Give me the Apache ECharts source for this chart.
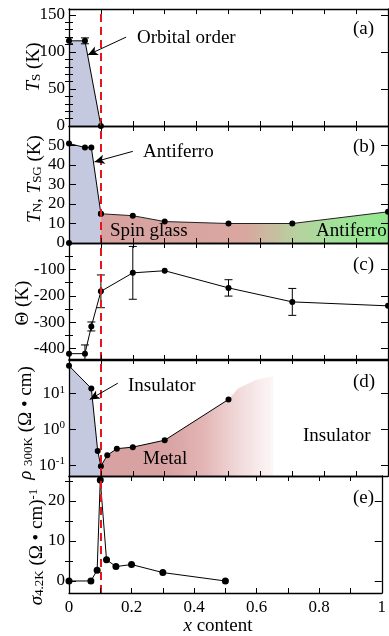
<!DOCTYPE html>
<html>
<head>
<meta charset="utf-8">
<script src="https://cdn.jsdelivr.net/npm/echarts@6/dist/echarts.min.js"></script>
<style>
  html, body { margin: 0; padding: 0; background: #fff; }
  #chart { width: 389px; height: 636px; }
</style>
</head>
<body>
<div id="chart"></div>
<script>
// (a) orbital order temperature
const tsX = [0, 0.05, 0.1];
const tsY = [115, 115, 0];
const tsErr = [4, 4, 0];

// (b) Neel / spin glass temperatures
const tnX = [0, 0.05, 0.07, 0.1];
const tnY = [51, 49, 49, 15];
const tsgX = [0.1, 0.2, 0.3, 0.5, 0.7, 1.0];
const tsgY = [15, 14, 11, 10, 10, 16];

// (c) Weiss temperature
const thetaX = [0, 0.05, 0.07, 0.1, 0.2, 0.3, 0.5, 0.7, 1.0];
const thetaY = [-419, -419, -316, -183, -113, -105, -170, -223, -238];
const thetaErr = [0, 33, 17, 62, 100, 0, 31, 51, 0];

// (d) resistivity at 300K
const rhoX = [0, 0.07, 0.09, 0.1, 0.12, 0.15, 0.2, 0.3, 0.5];
const rhoY = [60, 14, 0.25, 0.094, 0.19, 0.29, 0.32, 0.5, 6.9];
// upper edge of the faded metal region past the last point
const fadeX = [0.53, 0.585, 0.64];
const fadeY = [14, 24, 31];

// (e) conductivity at 4.2K
const sigX = [0, 0.07, 0.09, 0.1, 0.12, 0.15, 0.2, 0.3, 0.5];
const sigY = [0, 0, 2.7, 25.2, 5.3, 3.6, 4.1, 2.1, 0];

// ticks
const xLabels = [0, 0.2, 0.4, 0.6, 0.8, 1];
const tsTicks = [0, 50, 100, 150];
const tsMinor = [10, 20, 30, 40, 60, 70, 80, 90, 110, 120, 130, 140];
const tnTicks = [0, 10, 20, 30, 40, 50];
const thetaTicks = [-400, -300, -200, -100, 0];
const thetaLabels = [-400, -300, -200, -100];
const thetaMinor = [-350, -250, -150, -50];
const rhoTicks = [0.1, 1, 10];
const sigTicks = [0, 10, 20];
const sigMinor = [5, 15, 25];

const FONT = 'Liberation Serif';
const BLUE = '#c5c9df';
const RED = '#d7a2a1';
const DASH_RED = '#e8141b';

const pts = (xs, ys) => xs.map((x, i) => [x, ys[i]]);
const errs = (xs, ys, es) => xs.map((x, i) => [x, ys[i] - es[i], ys[i] + es[i]]).filter((d, i) => es[i] > 0);

const panels = [
  { min: 0, max: 158, ticks: tsTicks, minor: tsMinor },
  { min: 0, max: 60, ticks: tnTicks, minor: [] },
  { min: -443, max: 0, ticks: thetaTicks, labels: thetaLabels, minor: thetaMinor },
  { min: 0.05, max: 93, type: 'log', ticks: rhoTicks, minor: [] },
  { min: -3, max: 26.2, ticks: sigTicks, minor: sigMinor },
];
const tops = [9, 126, 243, 359, 476];

const black = { color: '#000', width: 1.3 };
const grid = [], xAxis = [], yAxis = [];

panels.forEach((p, i) => {
  grid.push({ left: 69, right: 1, top: tops[i], height: 117 });
  p.x = xAxis.length;
  ['bottom', 'top'].forEach(pos => xAxis.push({
    gridIndex: i, type: 'value', position: pos, min: 0, max: 1, interval: 0.1, z: 5,
    axisLine: { show: true, onZero: false, lineStyle: black },
    axisTick: { inside: true, length: 5, lineStyle: { color: '#000' } },
    axisLabel: {
      show: pos === 'bottom' && i === 4, customValues: xLabels, margin: 6,
      fontFamily: FONT, fontSize: 17, color: '#000', formatter: v => String(v)
    },
    splitLine: { show: false }
  }));
  p.y = yAxis.length;
  const base = { gridIndex: i, type: p.type || 'value', min: p.min, max: p.max, z: 5, splitLine: { show: false } };
  const labelFmt = p.type === 'log'
    ? v => '10{sup|' + Math.round(Math.log10(v)) + '}'
    : v => String(v);
  ['left', 'right'].forEach(pos => yAxis.push({
    ...base, position: pos,
    axisLine: { show: true, onZero: false, lineStyle: black },
    axisTick: { inside: true, length: 7, customValues: p.ticks, lineStyle: { color: '#000' } },
    axisLabel: {
      show: pos === 'left', customValues: p.labels || p.ticks, margin: 4,
      fontFamily: FONT, fontSize: 17, color: '#000', formatter: labelFmt,
      rich: { sup: { fontFamily: FONT, fontSize: 11, color: '#000', verticalAlign: 'top', padding: [0, 0, 8, 0] } }
    }
  }));
  if (p.minor.length) {
    ['left', 'right'].forEach(pos => yAxis.push({
      ...base, position: pos,
      axisLine: { show: false },
      axisTick: { inside: true, length: 4, customValues: p.minor, lineStyle: { color: '#000' } },
      axisLabel: { show: false }
    }));
  }
});

const ax = i => ({ xAxisIndex: panels[i].x, yAxisIndex: panels[i].y });

const dashed = {
  silent: true, symbol: ['none', 'none'], label: { show: false },
  lineStyle: { color: DASH_RED, type: [8, 5], width: 2 },
  data: [{ xAxis: 0.1 }]
};
const arrow = (from, to) => [
  { coord: from, symbol: 'none', lineStyle: { color: '#000', type: 'solid', width: 1 } },
  { coord: to, symbol: 'arrow', symbolSize: [7, 10] }
];
const lineSeries = (i, data, extra) => ({
  type: 'line', ...ax(i), data, symbol: 'circle', symbolSize: 6,
  itemStyle: { color: '#000' }, lineStyle: { color: '#000', width: 1 },
  animation: false, ...extra
});
const errSeries = (i, data) => ({
  type: 'custom', ...ax(i), data, clip: true, z: 4, animation: false,
  renderItem: (params, api) => {
    const x = api.value(0);
    const lo = api.coord([x, api.value(1)]);
    const hi = api.coord([x, api.value(2)]);
    const w = 4, st = { stroke: '#000', lineWidth: 1 };
    return {
      type: 'group', children: [
        { type: 'line', shape: { x1: lo[0], y1: lo[1], x2: hi[0], y2: hi[1] }, style: st },
        { type: 'line', shape: { x1: lo[0] - w, y1: lo[1], x2: lo[0] + w, y2: lo[1] }, style: st },
        { type: 'line', shape: { x1: hi[0] - w, y1: hi[1], x2: hi[0] + w, y2: hi[1] }, style: st }
      ]
    };
  }
});

const sgGradient = new echarts.graphic.LinearGradient(0, 0, 1, 0, [
  { offset: 0, color: RED },
  { offset: 0.5, color: '#d9a6a0' },
  { offset: 0.67, color: '#b9cf9f' },
  { offset: 0.8, color: '#a3e09a' },
  { offset: 1, color: '#92e88f' }
]);
const fadeGradient = new echarts.graphic.LinearGradient(0, 0, 1, 0, [
  { offset: 0, color: RED },
  { offset: 0.37, color: RED },
  { offset: 0.6, color: 'rgba(215,150,150,0.7)' },
  { offset: 0.8, color: 'rgba(220,160,160,0.4)' },
  { offset: 1, color: 'rgba(230,180,180,0.12)' }
]);

const series = [
  // (a)
  lineSeries(0, pts(tsX, tsY), { areaStyle: { color: BLUE, opacity: 1, origin: 'start' } }),
  errSeries(0, errs(tsX, tsY, tsErr)),
  lineSeries(0, [], {
    markLine: { ...dashed, data: [{ xAxis: 0.1 }, arrow([0.179, 120], [0.059, 96])] }
  }),
  // (b)
  lineSeries(1, pts(tnX, tnY), { areaStyle: { color: BLUE, opacity: 1, origin: 'start' } }),
  lineSeries(1, pts(tsgX, tsgY), {
    areaStyle: { color: sgGradient, opacity: 1, origin: 'start' },
    lineStyle: { color: '#222', width: 1 }
  }),
  lineSeries(1, [[0, 0]], {
    markLine: { ...dashed, data: [{ xAxis: 0.1 }, arrow([0.2, 47], [0.08, 41.6])] }
  }),
  // (c)
  errSeries(2, errs(thetaX, thetaY, thetaErr)),
  lineSeries(2, pts(thetaX, thetaY), { markLine: dashed }),
  // (d)
  lineSeries(3, pts(rhoX.slice(3), rhoY.slice(3)).concat(pts(fadeX, fadeY)), {
    symbol: 'none', lineStyle: { width: 0, opacity: 0 },
    areaStyle: { color: fadeGradient, opacity: 1, origin: 'start' }
  }),
  lineSeries(3, pts(rhoX.slice(0, 4), rhoY.slice(0, 4)), {
    symbol: 'none', lineStyle: { width: 0, opacity: 0 },
    areaStyle: { color: BLUE, opacity: 1, origin: 'start' }
  }),
  lineSeries(3, pts(rhoX, rhoY), {
    markLine: { ...dashed, data: [{ xAxis: 0.1 }, arrow([0.153, 19.6], [0.065, 6.9])] }
  }),
  // (e)
  lineSeries(4, pts(sigX, sigY), { symbolSize: 7, markLine: dashed })
];

const txt = (x, y, text, extra) => ({
  type: 'text', x, y, z: 20,
  style: { text, fontFamily: FONT, fontSize: 19, fill: '#000', verticalAlign: 'middle', ...extra }
});
const nameRich = {
  i: { fontFamily: FONT, fontSize: 19, fontStyle: 'italic', fill: '#000' },
  sub: { fontFamily: FONT, fontSize: 13, fill: '#000', verticalAlign: 'bottom', padding: [6, 0, 0, 0] },
  sup: { fontFamily: FONT, fontSize: 13, fill: '#000', verticalAlign: 'top', padding: [0, 0, 6, 0] }
};
const yName = (x, y, text) => ({
  type: 'text', x, y, rotation: Math.PI / 2, z: 20,
  style: { text, fontFamily: FONT, fontSize: 19, fill: '#000', align: 'center', verticalAlign: 'middle', rich: nameRich }
});

const graphic = [
  txt(137, 38, 'Orbital order'),
  txt(353, 29, '(a)'),
  txt(143, 152, 'Antiferro'),
  txt(353, 147, '(b)'),
  txt(110, 231, 'Spin glass'),
  txt(316, 231, 'Antiferro'),
  txt(353, 265, '(c)'),
  txt(353, 382, '(d)'),
  txt(128, 386, 'Insulator'),
  txt(143, 459, 'Metal'),
  txt(303, 436, 'Insulator'),
  txt(353, 498, '(e)'),
  yName(34, 67, '{i|T}{sub|S} (K)'),
  yName(35, 179, '{i|T}{sub|N}, {i|T}{sub|SG} (K)'),
  yName(23, 303, 'Θ (K)'),
  yName(26, 423, '{i|ρ} {sub|300K} (Ω • cm)'),
  yName(37, 547, '{i|σ}{sub|4.2K} (Ω • cm){sup|-1}'),
  {
    type: 'text', x: 218, y: 626, z: 20,
    style: { text: '{i|x} content', fontFamily: FONT, fontSize: 19, fill: '#000', align: 'center', verticalAlign: 'middle', rich: nameRich }
  }
];

const chart = echarts.init(document.getElementById('chart'));
chart.setOption({
  animation: false,
  textStyle: { fontFamily: FONT, color: '#000' },
  grid, xAxis, yAxis, series, graphic
});
</script>
</body>
</html>
